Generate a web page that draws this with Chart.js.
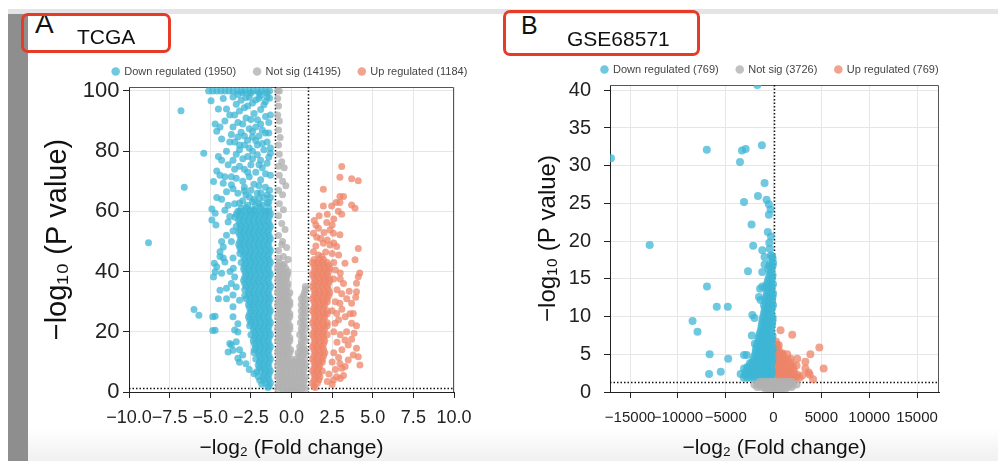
<!DOCTYPE html>
<html>
<head>
<meta charset="utf-8">
<script src="https://cdn.jsdelivr.net/npm/chart.js@4.4.1/dist/chart.umd.min.js"></script>
<style>
  html, body { margin: 0; padding: 0; background: #fff; }
  body { width: 998px; height: 461px; overflow: hidden; position: relative; font-family: "Liberation Sans", Arial, sans-serif; }
  .strip { position: absolute; left: 8px; top: 9px; width: 990px; height: 5px; background: #e4e4e7; }
  .bar { position: absolute; left: 8px; top: 14px; width: 20px; height: 447px; background: #8e8e8e; }
  .foot { position: absolute; left: 28px; top: 428px; width: 970px; height: 33px; background: linear-gradient(#fff, #f0f0f0); }
  .tag { position: absolute; border: 3px solid #e63b26; border-radius: 7px; box-sizing: border-box; }
  .txt { position: absolute; line-height: 1; color: #111; white-space: nowrap; }
  canvas { position: absolute; }
</style>
</head>
<body>
<div class="strip"></div>
<div class="bar"></div>
<div class="foot"></div>
<canvas id="chartA" width="520" height="413" style="left:30px;top:48px"></canvas>
<canvas id="chartB" width="520" height="415" style="left:510px;top:46px"></canvas>
<div class="txt" style="left:35px;top:9.5px;font-size:28px">A</div>
<div class="txt" style="left:77px;top:26px;font-size:21px">TCGA</div>
<div class="tag" style="left:21px;top:13px;width:150px;height:40px"></div>
<div class="txt" style="left:521px;top:13px;font-size:25px">B</div>
<div class="txt" style="left:567px;top:28px;font-size:21px">GSE68571</div>
<div class="tag" style="left:503px;top:10px;width:197px;height:46px"></div>

<script>
// legend texts
const labelsA = ["Down regulated (1950)", "Not sig (14195)", "Up regulated (1184)"];
const labelsB = ["Down regulated (769)", "Not sig (3726)", "Up regulated (769)"];

// axis ranges, tick values and cut-offs (log2FC, -log10 P)
const fcRangeA = [-10, 10];
const pRangeA = [0, 101.3];
const fcTicksA = [-10, -7.5, -5, -2.5, 0, 2.5, 5, 7.5, 10];
const pTicksA = [0, 20, 40, 60, 80, 100];
const fcRangeB = [-17100, 17300];
const pRangeB = [0, 40.7];
const fcTicksB = [-15000, -10000, -5000, 0, 5000, 10000, 15000];
const pTicksB = [0, 5, 10, 15, 20, 25, 30, 35, 40];
const cutFcA = [-1, 1];
const cutFcB = [0];
const cutP = 1.3;

// ---- TCGA : single points [x, y]
const downA = [
  [-5.1,100],[-4.85,100],[-4.6,100],[-4.35,100],[-4.1,100],[-3.85,100],[-3.6,100],[-3.35,100],[-3.1,100],
  [-2.85,100],[-2.6,100],[-2.35,100],[-2.1,100],[-1.85,100],[-1.6,100],[-1.35,100],
  [-3.0,99.3],[-2.5,99.3],[-2.0,99.3],[-1.5,99.3],
  [-6.8,93.4],[-5.4,79.3],[-6.6,68.0],[-8.8,49.6],[-6.0,27.4],[-5.7,25.5],
  [-4.95,96.7],[-4.5,94.0],[-4.1,90.0],[-3.8,92.0],[-4.7,89.0],[-4.6,86.6],[-3.4,95.6],[-3.1,96.9],
  [-2.8,97.8],[-3.2,93.3],[-2.9,94.4],[-2.4,96.0],[-1.9,93.8],[-1.7,95.4],[-2.0,97.6],[-1.35,97.6],
  [-1.4,89.5],[-1.6,91.5],[-2.1,90.4],[-3.1,86.3],[-2.6,87.4],[-3.3,84.7],[-2.4,84.7],[-2.7,83.6],
  [-2.9,82.0],[-2.1,82.0],[-3.5,83.0],[-1.5,83.0],[-1.3,81.0],[-3.0,89.0],[-2.5,90.5],[-2.2,88.0],
  [-1.8,87.0],[-1.4,86.0],[-3.6,88.0],[-2.0,85.0],[-1.7,80.5],[-2.4,80.0],[-3.2,80.5],[-1.9,98.5],
  [-2.6,98.0],[-3.6,98.0],[-4.2,97.5],[-1.5,98.0],
  [-3.3,98.8],[-2.2,97.0],[-1.6,96.5],[-2.7,95.0],[-3.5,92.0],[-2.3,92.5],[-1.3,92.0],[-2.8,91.0],
  [-3.3,89.5],[-1.9,89.0],[-1.6,86.0],[-2.4,86.5],[-2.9,85.0],[-3.7,85.5],[-2.2,83.5],[-1.8,82.5],
  [-3.2,82.0],[-2.6,81.0],[-1.4,78.0],[-1.9,77.0],[-2.4,77.5],[-3.0,77.5],[-3.4,79.0],[-2.0,75.5],
  [-2.7,73.0],[-3.5,74.0],[-1.6,72.5],[-2.0,68.5],[-2.9,68.0],[-3.6,67.5],[-1.5,65.5],[-2.3,64.0],
  [-3.0,63.5],[-1.8,62.0],[-2.5,60.5],[-3.3,60.0],[-3.7,71.5],[-4.1,71.5],[-4.0,80.0],[-3.8,83.0],
  [-4.3,84.0],[-4.4,88.0],[-4.0,94.0],
  [-4.5,78.2],[-4.3,77.0],[-4.6,73.4],[-4.4,72.0],[-3.6,77.0],[-2.7,78.2],[-2.1,78.8],[-1.3,79.3],
  [-3.9,75.5],[-3.2,75.0],[-2.9,74.0],[-2.5,75.5],[-2.2,73.0],[-1.8,74.5],[-1.5,76.0],[-1.3,72.0],
  [-3.4,71.0],[-3.0,70.0],[-2.6,71.5],[-2.3,69.0],[-1.9,70.5],[-1.6,68.0],[-1.35,67.0],[-3.3,66.0],
  [-2.8,65.5],[-2.5,67.0],[-2.1,66.0],[-1.7,64.5],[-1.4,63.0],[-3.5,62.5],[-3.1,61.0],[-2.7,62.0],
  [-2.3,60.5],[-2.0,62.5],[-1.6,60.0],[-4.3,64.0],[-3.9,62.0],
  [-1.4,61.2],[-1.9,61.0],[-2.2,62.0],[-2.8,61.3],[-1.5,62.8],[-2.4,63.2],[-3.2,62.8],[-1.3,64.6],
  [-2.0,64.2],[-2.6,64.8],[-1.9,66.2],[-2.9,66.8],
  [-4.8,69.9],[-4.2,69.3],[-3.7,68.8],[-4.0,66.5],[-4.6,64.6],[-4.9,60.8],[-4.9,57.1],[-4.7,59.4],
  [-4.65,55.5],[-4.1,60.4],[-3.9,56.5],[-3.8,58.3],[-4.0,52.1],[-4.2,48.2],[-4.4,46.6],[-4.1,43.2],
  [-4.6,41.6],[-4.8,38.2],[-4.7,39.9],[-4.75,42.8],[-4.3,50.0],[-4.4,45.0],[-4.2,44.5],[-4.3,39.4],
  [-3.78,40.0],[-3.58,41.1],[-3.6,44.5],[-3.7,50.0],[-3.6,53.5],
  [-4.4,33.8],[-4.0,34.5],[-4.5,31.0],[-3.7,36.0],[-3.4,34.9],[-3.5,38.2],[-3.6,28.3],[-3.2,30.5],
  [-3.6,25.0],[-3.3,22.7],[-4.0,31.0],[-3.6,32.2],[-3.5,20.6],[-3.3,19.9],
  [-4.85,25.0],[-4.85,20.4],[-4.7,25.2],[-4.7,20.5],
  [-3.8,16.1],[-3.9,13.3],[-3.6,13.9],[-3.7,15.6],[-3.4,16.7],[-3.2,14.0],[-3.3,11.2],[-3.0,12.3],
  [-3.2,9.9],[-2.8,9.4],[-2.6,7.5],[-2.3,6.1],[-2.14,6.7],[-2.04,5.1],[-1.95,3.9],[-1.83,2.6]
];
// TCGA dense part of the down group: [y, x, x, ...]
const downCoreA = [
  [60, -1.38,-1.68,-1.98,-2.28,-2.58,-2.88,-3.18],
  [59, -1.3,-1.6,-1.9,-2.2,-2.5,-2.8,-3.1,-3.4],
  [58, -1.38,-1.68,-1.98,-2.28,-2.58,-2.88,-3.18,-3.48],
  [57, -1.45,-1.75,-2.05,-2.35,-2.65,-2.95,-3.25],
  [56, -1.38,-1.68,-1.98,-2.28,-2.58,-2.88,-3.18],
  [55, -1.3,-1.6,-1.9,-2.2,-2.5,-2.8,-3.1,-3.4],
  [54, -1.38,-1.68,-1.98,-2.28,-2.58,-2.88,-3.18],
  [53, -1.45,-1.75,-2.05,-2.35,-2.65,-2.95,-3.25],
  [52, -1.38,-1.68,-1.98,-2.28,-2.58,-2.88,-3.18],
  [51, -1.3,-1.6,-1.9,-2.2,-2.5,-2.8,-3.1],
  [50, -1.38,-1.68,-1.98,-2.28,-2.58,-2.88,-3.18],
  [49, -1.45,-1.75,-2.05,-2.35,-2.65,-2.95,-3.25],
  [48, -1.38,-1.68,-1.98,-2.28,-2.58,-2.88,-3.18],
  [47, -1.3,-1.6,-1.9,-2.2,-2.5,-2.8,-3.1],
  [46, -1.38,-1.68,-1.98,-2.28,-2.58,-2.88,-3.18],
  [45, -1.45,-1.75,-2.05,-2.35,-2.65,-2.95],
  [44, -1.38,-1.68,-1.98,-2.28,-2.58,-2.88],
  [43, -1.3,-1.6,-1.9,-2.2,-2.5,-2.8,-3.1],
  [42, -1.38,-1.68,-1.98,-2.28,-2.58,-2.88],
  [41, -1.45,-1.75,-2.05,-2.35,-2.65,-2.95],
  [40, -1.38,-1.68,-1.98,-2.28,-2.58,-2.88],
  [39, -1.3,-1.6,-1.9,-2.2,-2.5,-2.8],
  [38, -1.38,-1.68,-1.98,-2.28,-2.58,-2.88],
  [37, -1.45,-1.75,-2.05,-2.35,-2.65,-2.95],
  [36, -1.38,-1.68,-1.98,-2.28,-2.58,-2.88],
  [35, -1.3,-1.6,-1.9,-2.2,-2.5,-2.8],
  [34, -1.38,-1.68,-1.98,-2.28,-2.58,-2.88],
  [33, -1.45,-1.75,-2.05,-2.35,-2.65],
  [32, -1.38,-1.68,-1.98,-2.28,-2.58,-2.88],
  [31, -1.3,-1.6,-1.9,-2.2,-2.5,-2.8],
  [30, -1.38,-1.68,-1.98,-2.28,-2.58],
  [29, -1.45,-1.75,-2.05,-2.35,-2.65],
  [28, -1.38,-1.68,-1.98,-2.28,-2.58],
  [27, -1.3,-1.6,-1.9,-2.2,-2.5],
  [26, -1.38,-1.68,-1.98,-2.28,-2.58],
  [25, -1.45,-1.75,-2.05,-2.35,-2.65],
  [24, -1.38,-1.68,-1.98,-2.28,-2.58],
  [23, -1.3,-1.6,-1.9,-2.2,-2.5],
  [22, -1.38,-1.68,-1.98,-2.28,-2.58],
  [21, -1.45,-1.75,-2.05,-2.35],
  [20, -1.38,-1.68,-1.98,-2.28],
  [19, -1.3,-1.6,-1.9,-2.2,-2.5],
  [18, -1.38,-1.68,-1.98,-2.28],
  [17, -1.45,-1.75,-2.05,-2.35],
  [16, -1.38,-1.68,-1.98,-2.28],
  [15, -1.3,-1.6,-1.9,-2.2],
  [14, -1.38,-1.68,-1.98,-2.28],
  [13, -1.45,-1.75,-2.05,-2.3],
  [12, -1.38,-1.68,-1.98],
  [11, -1.3,-1.6,-1.9,-2.2],
  [10, -1.38,-1.68,-1.98],
  [9, -1.45,-1.75,-2.05],
  [8, -1.38,-1.68,-1.98],
  [7, -1.3,-1.6,-1.9],
  [6, -1.38,-1.68],
  [5, -1.45,-1.75],
  [4, -1.38,-1.68],
  [3, -1.3,-1.6],
  [2, -1.38],
  [1.5, -1.45]
];
const flatA = [
  [-0.85,100],[-0.75,100],[-0.85,97.5],[-0.8,95],[-0.85,92],[-0.75,90],[-0.8,87],[-0.7,84.5],
  [-0.8,82],[-0.75,79],[-0.6,76.5],[-0.8,75],[-0.45,74.5],[-0.75,72],[-0.55,70],[-0.35,68.5],
  [-0.8,67],[-0.55,65.5],[-0.75,62.5],[-0.5,60.5],[-0.8,58.5],[-0.6,56],[-0.4,54],[-0.8,52],
  [-0.55,50],[-0.6,49],[-0.3,48],[-0.8,47],[-0.5,45],[-0.8,44.5],[-0.2,44],[-0.75,43],[-0.45,42.5]
];
const flatCoreA = [
  [42, -0.8,-0.55],
  [41, -0.85,-0.6,-0.35],
  [40, -0.72,-0.47,-0.22],
  [39, -0.75,-0.5,-0.25],
  [38, -0.8,-0.55,-0.3],
  [37, -0.85,-0.6,-0.35],
  [36, -0.72,-0.47,-0.22],
  [35, -0.75,-0.5,-0.25, 0.85],
  [34, -0.8,-0.55,-0.3, 0.85],
  [33, -0.85,-0.6,-0.35,-0.1, 0.8],
  [32, -0.72,-0.47,-0.22, 0.72],
  [31, -0.75,-0.5,-0.25, 0.6,0.85],
  [30, -0.8,-0.55,-0.3,-0.1, 0.72],
  [29, -0.85,-0.6,-0.35,-0.1, 0.6,0.85],
  [28, -0.72,-0.47,-0.22, 0.72],
  [27, -0.75,-0.5,-0.25, 0.6,0.85],
  [26, -0.8,-0.55,-0.3,-0.1, 0.72],
  [25, -0.85,-0.6,-0.35,-0.1, 0.6,0.85],
  [24, -0.72,-0.47,-0.22, 0.7],
  [23, -0.75,-0.5,-0.25, 0.55,0.8],
  [22, -0.8,-0.55,-0.3,-0.1, 0.72],
  [21, -0.85,-0.6,-0.35,-0.1, 0.6,0.85],
  [20, -0.72,-0.47,-0.22, 0.65],
  [19, -0.75,-0.5,-0.25, 0.5,0.75],
  [18, -0.8,-0.55,-0.3,-0.1, 0.72],
  [17, -0.85,-0.6,-0.35,-0.1, 0.6,0.85],
  [16, -0.72,-0.47,-0.22, 0.62],
  [15, -0.75,-0.5,-0.25, 0.5,0.75],
  [14, -0.8,-0.55,-0.3,-0.05, 0.55,0.8],
  [13, -0.85,-0.6,-0.35,-0.1, 0.4,0.65,0.85],
  [12, -0.72,-0.47,-0.22, 0.45,0.7],
  [11, -0.75,-0.5,-0.25,0, 0.3,0.55,0.8],
  [10, -0.8,-0.55,-0.3,-0.05,0.2,0.45,0.7],
  [9, -0.85,-0.6,-0.35,-0.1,0.15,0.4,0.65,0.85],
  [8, -0.72,-0.47,-0.22,0.03,0.28,0.53,0.78],
  [7, -0.75,-0.5,-0.25,0,0.25,0.5,0.75],
  [6, -0.8,-0.55,-0.3,-0.05,0.2,0.45,0.7],
  [5, -0.85,-0.6,-0.35,-0.1,0.15,0.4,0.65,0.85],
  [4, -0.72,-0.47,-0.22,0.03,0.28,0.53,0.78],
  [3, -0.75,-0.5,-0.25,0,0.25,0.5,0.75],
  [2, -0.8,-0.55,-0.3,-0.05,0.2,0.45,0.7],
  [1.2, -0.85,-0.6,-0.35,-0.1,0.15,0.4,0.65,0.85],
  [0.2, -0.5,-0.25,0,0.25,0.5]
];
const upA = [
  [3.09,74.9],[2.98,71.3],[3.7,70.8],[4.11,70.2],[1.96,67.3],[2.98,64.9],[3.2,64.9],[2.75,62.9],
  [2.98,62.9],[1.96,61.8],[2.47,61.8],[3.7,62.1],[3.91,61.0],[2.88,60.0],[3.09,59.0],[2.17,56.3],
  [1.66,54.4],[1.35,52.7],[1.55,51.4],[2.37,53.8],[2.58,52.7],[2.98,52.2],[1.96,49.4],[2.37,48.8],
  [2.78,48.3],[4.11,47.7],[1.35,46.6],[1.66,45.5],[1.86,45.0],[3.91,43.9],[3.29,42.8],[4.11,38.3],
  [4.0,36.1],[4.0,33.3],[3.7,29.5],[3.8,26.1],[3.7,22.8],[3.09,32.6],[2.98,29.5],[2.78,26.1],
  [2.68,22.8],[3.39,20.0],[3.29,17.3],[3.49,15.6],[4.0,14.5],[3.8,12.3],[4.11,11.7],[4.21,9.0],
  [3.09,7.9],[2.98,9.5],[3.49,10.6],[2.78,5.1],[2.58,4.0],
  [1.4,57],[1.7,58.5],[2.2,59],[2.6,57.5],[1.5,55.5],[2.0,53],[2.5,55.5],[1.8,51],[2.2,50.5],
  [2.6,49.5],[1.5,48.5],[2.1,46.5],[2.5,46],[2.9,45.5],[2.6,43],[2.7,40.5],[3.0,39.5],[2.6,37.5],
  [3.2,36],[2.8,34],[3.0,37.5],[3.4,31],[2.7,30],[3.1,27.5],[2.5,27],[3.3,25],[2.9,24],[2.6,20],
  [3.0,19],[2.8,16.5],[3.1,14],[2.6,13],[2.9,11.5],[2.5,10],[3.3,8.5],[2.7,7.5],[2.3,6],[3.0,4.5],
  [2.2,3.5],[2.5,2.5],[3.7,17.5],[3.6,26],[3.95,31.5],[4.2,39.5],[3.55,33.5],[3.85,19.5],[4.0,22],[3.2,5.5]
];
const upCoreA = [
  [44, 1.38,1.68,1.98],
  [43, 1.3,1.6,1.9,2.2],
  [42, 1.38,1.68,1.98,2.28],
  [41, 1.45,1.75,2.05,2.35],
  [40, 1.38,1.68,1.98,2.28],
  [39, 1.3,1.6,1.9,2.2],
  [38, 1.38,1.68,1.98,2.28],
  [37, 1.45,1.75,2.05,2.35],
  [36, 1.38,1.68,1.98,2.28],
  [35, 1.3,1.6,1.9,2.2],
  [34, 1.38,1.68,1.98,2.28],
  [33, 1.45,1.75,2.05,2.35],
  [32, 1.38,1.68,1.98,2.28],
  [31, 1.3,1.6,1.9,2.2],
  [30, 1.38,1.68,1.98,2.2],
  [29, 1.45,1.75,2.05],
  [28, 1.38,1.68,1.98],
  [27, 1.3,1.6,1.9,2.2],
  [26, 1.38,1.68,1.98,2.2],
  [25, 1.45,1.75,2.05],
  [24, 1.38,1.68,1.98],
  [23, 1.3,1.6,1.9,2.2],
  [22, 1.38,1.68,1.98,2.2],
  [21, 1.45,1.75,2.05],
  [20, 1.38,1.68,1.98],
  [19, 1.3,1.6,1.9,2.2],
  [18, 1.38,1.68,1.98],
  [17, 1.45,1.75,2.05],
  [16, 1.38,1.68,1.98],
  [15, 1.3,1.6,1.9],
  [14, 1.38,1.68,1.98],
  [13, 1.45,1.75,2.05],
  [12, 1.38,1.68,1.98],
  [11, 1.3,1.6,1.9],
  [10, 1.38,1.68,1.9],
  [9, 1.45,1.75],
  [8, 1.38,1.68],
  [7, 1.3,1.6,1.9],
  [6, 1.38,1.68],
  [5, 1.45,1.75],
  [4, 1.38,1.68],
  [3, 1.3,1.6],
  [2, 1.38],
  [1.5, 1.45]
];

// ---- GSE68571
const downB = [
  [-1700,40.7],[-17000,31.0],[-6980,32.1],[-3300,32.0],[-2920,32.2],[-1220,32.7],[-3510,30.5],
  [-940,27.7],[-1630,26.0],[-3090,25.2],[-730,25.5],[-490,24.9],[-310,24.2],[-490,23.5],[-2300,22.2],
  [-600,21.2],[-270,20.6],[-440,19.8],[-2130,19.4],[-12950,19.5],[-1180,18.8],[-940,17.9],[-270,18.1],
  [-100,17.7],[-2670,16.0],[-1180,15.9],[-940,16.9],[-6960,14.0],[-5940,11.3],[-4780,11.3],[-8470,9.4],
  [-7950,8.0],[-6680,5.0],[-4740,4.4],[-6740,2.4],[-5520,2.7],[-3090,4.9],[-2810,4.9],[-2270,7.5],
  [-1960,6.4],[-2220,10.2],[-1990,9.8],[-1520,12.6],[-1350,12.2],[-1410,13.7],[-1180,14.0],
  [-3440,2.4],[-3090,3.1],[-2740,3.3],[-2470,3.8]
];
const downCoreB = [
  [1.9, -3100,-2750,-2400,-2050,-1700,-1350,-1000,-650,-300],
  [2.3, -3000,-2650,-2300,-1950,-1600,-1250,-900,-550,-200],
  [2.7, -2900,-2550,-2200,-1850,-1500,-1150,-800,-450,-150],
  [3.1, -2700,-2350,-2000,-1650,-1300,-950,-600,-250],
  [3.5, -2400,-2050,-1700,-1350,-1000,-650,-300],
  [3.9, -2250,-1900,-1550,-1200,-850,-500,-150],
  [4.3, -2100,-1750,-1400,-1050,-700,-350,-100],
  [4.7, -2000,-1650,-1300,-950,-600,-250],
  [5.1, -1900,-1550,-1200,-850,-500,-150],
  [5.5, -1850,-1500,-1150,-800,-450,-100],
  [5.9, -1800,-1450,-1100,-750,-400,-100],
  [6.3, -1700,-1350,-1000,-650,-300],
  [6.7, -1600,-1250,-900,-550,-200],
  [7.1, -1550,-1200,-850,-500,-150],
  [7.5, -1500,-1150,-800,-450,-100],
  [7.9, -1400,-1050,-700,-350],
  [8.3, -1300,-950,-600,-250],
  [8.7, -1250,-900,-550,-200],
  [9.1, -1200,-850,-500,-150],
  [9.5, -1150,-800,-450,-100],
  [9.9, -1100,-750,-400,-100],
  [10.3, -1000,-650,-300],
  [10.7, -950,-600,-250],
  [11.1, -900,-550,-200],
  [11.5, -1000,-650,-300,-50],
  [11.9, -850,-500,-150],
  [12.3, -800,-450,-150],
  [12.7, -750,-400,-100],
  [13.1, -700,-350,-50],
  [13.5, -600,-250],
  [13.9, -850,-500,-200],
  [14.3, -700,-350,-50],
  [14.7, -600,-250],
  [15.1, -500,-150],
  [15.5, -400,-100],
  [15.9, -300],
  [16.3, -550,-200],
  [16.7, -450,-100],
  [17.1, -350,-50],
  [18.0, -150],
  [19.0, -400]
];
const flatCoreB = [
  [1.35, -1400,-1000,-600,-200,200,600,1000,1400,1800],
  [1.0, -2000,-1600,-1200,-800,-400,0,400,800,1200,1600,2000,2400],
  [0.65, -1700,-1300,-900,-500,-100,300,700,1100,1500,1900],
  [0.35, -800,-400,0,400,800,1200]
];
const upB = [
  [730,8.2],[1950,7.6],[550,6.2],[4790,5.9],[5240,3.1],[3850,5.0],[3780,2.3],[4130,1.7],[2470,4.4],
  [3330,4.0],[3680,2.6],[1430,5.0],[1770,4.4],[2400,3.5],[3330,3.1],[2990,2.2],[900,5.0]
];
const upCoreB = [
  [1.9, 250,600,950,1300,1650,2000,2350,2700],
  [2.3, 350,700,1050,1400,1750,2100,2450],
  [2.7, 400,750,1100,1450,1800,2150],
  [3.1, 300,650,1000,1350,1700,2050],
  [3.5, 250,600,950,1300,1650,2000],
  [3.9, 350,700,1050,1400,1750],
  [4.3, 400,750,1100,1450],
  [4.7, 300,650,1000],
  [5.1, 250,600,950],
  [5.5, 300,550],
  [5.9, 400],
  [6.3, 350],
  [6.7, 250]
];

const fromPairs = pts => pts.map(([x, y]) => ({ x, y }));
const fromRows = rows => rows.flatMap(([y, ...xs]) => xs.map(x => ({ x, y })));

const blue = "rgba(62,182,212,0.75)";
const grey = "rgba(178,178,178,0.8)";
const salmon = "rgba(238,132,104,0.75)";

Chart.defaults.font.family = "'Liberation Sans', Arial, sans-serif";

// frame and dotted cut-off lines, drawn under the points
const cutoffLines = {
  id: "cutoffs",
  beforeDatasetsDraw(chart, args, opts) {
    const { ctx, chartArea: a, scales: { x, y } } = chart;
    ctx.save();
    ctx.strokeStyle = "#555";
    ctx.lineWidth = 1;
    ctx.beginPath();
    ctx.moveTo(a.left, a.top + 0.5);
    ctx.lineTo(a.right - 0.5, a.top + 0.5);
    ctx.lineTo(a.right - 0.5, a.bottom);
    ctx.stroke();
    ctx.strokeStyle = "#111";
    ctx.lineWidth = 1.5;
    ctx.setLineDash([1.5, 2]);
    opts.fc.forEach(v => {
      const px = Math.round(x.getPixelForValue(v)) + 0.5;
      ctx.beginPath();
      ctx.moveTo(px, a.top);
      ctx.lineTo(px, a.bottom);
      ctx.stroke();
    });
    const py = Math.round(y.getPixelForValue(opts.p)) + 0.5;
    ctx.beginPath();
    ctx.moveTo(a.left, py);
    ctx.lineTo(a.right, py);
    ctx.stroke();
    ctx.restore();
  }
};

function makeChart(id, p) {
  const sets = [
    { label: p.labels[0], data: p.down, color: blue, order: 1 },
    { label: p.labels[1], data: p.flat, color: grey, order: 0 },
    { label: p.labels[2], data: p.up, color: salmon, order: 2 }
  ].map(d => ({
    label: d.label, data: d.data, order: d.order,
    backgroundColor: d.color, pointBackgroundColor: d.color,
    pointRadius: p.radius, pointHoverRadius: p.radius, pointBorderWidth: 0, borderWidth: 0
  }));

  return new Chart(document.getElementById(id), {
    type: "scatter",
    data: { datasets: sets },
    options: {
      responsive: false,
      animation: false,
      events: [],
      layout: { padding: 0 },
      plugins: {
        legend: {
          position: "top",
          labels: {
            usePointStyle: true, pointStyle: "circle", boxWidth: 6, boxHeight: 6, padding: 18,
            color: "#444", font: { size: 11 },
            sort: (a, b) => a.datasetIndex - b.datasetIndex
          }
        },
        tooltip: { enabled: false },
        cutoffs: { fc: p.cutFc, p: cutP }
      },
      scales: {
        x: {
          type: "linear", min: p.xRange[0], max: p.xRange[1],
          afterBuildTicks: s => { s.ticks = p.xTicks.map(value => ({ value })); },
          border: { display: true, color: "#222", width: 1 },
          grid: { color: "#e6e6e6", tickColor: "#222", tickLength: 6 },
          ticks: {
            autoSkip: false, maxRotation: 0, minRotation: 0,
            color: "#222", padding: p.xTickPad, font: { size: p.xTickSize }, callback: p.xFmt
          },
          title: { display: true, text: "\u2212log\u2082 (Fold change)", color: "#111", font: { size: 21 }, padding: { top: 0, bottom: 0.5 } },
          afterFit: s => { s.height = 69; }
        },
        y: {
          type: "linear", min: p.yRange[0], max: p.yRange[1],
          afterBuildTicks: s => { s.ticks = p.yTicks.map(value => ({ value })); },
          border: { display: true, color: "#222", width: 1 },
          grid: { color: "#e6e6e6", tickColor: "#222", tickLength: 6 },
          ticks: { autoSkip: false, color: "#222", padding: p.yTickPad, font: { size: p.yTickSize } },
          title: { display: true, text: "\u2212log\u2081\u2080 (P value)", color: "#111", font: { size: p.yTitleSize }, padding: { top: p.yTitlePad, bottom: 0 } },
          afterFit: s => { s.width = p.yWidth; }
        },
        pad: {
          type: "linear", position: "right", display: true,
          grid: { display: false }, border: { display: false }, ticks: { display: false },
          afterFit: s => { s.width = p.padRight; }
        }
      }
    },
    plugins: [cutoffLines]
  });
}

const minus = v => (v < 0 ? "\u2212" : "");

makeChart("chartA", {
  labels: labelsA,
  down: fromPairs(downA).concat(fromRows(downCoreA)),
  flat: fromPairs(flatA).concat(fromRows(flatCoreA)),
  up: fromPairs(upA).concat(fromRows(upCoreA)),
  radius: 3.5,
  cutFc: cutFcA,
  xRange: fcRangeA, xTicks: fcTicksA, xTickSize: 18, xTickPad: 9,
  xFmt: v => minus(v) + Math.abs(v).toFixed(1),
  yRange: pRangeA, yTicks: pTicksA, yTickSize: 22, yTickPad: 3.5,
  yTitleSize: 29, yTitlePad: 10.6, yWidth: 99, padRight: 96
});

makeChart("chartB", {
  labels: labelsB,
  down: fromPairs(downB).concat(fromRows(downCoreB)),
  flat: fromRows(flatCoreB),
  up: fromPairs(upB).concat(fromRows(upCoreB)),
  radius: 4,
  cutFc: cutFcB,
  xRange: fcRangeB, xTicks: fcTicksB, xTickSize: 15, xTickPad: 10.5,
  xFmt: v => minus(v) + Math.abs(v),
  yRange: pRangeB, yTicks: pTicksB, yTickSize: 20, yTickPad: 13,
  yTitleSize: 24, yTitlePad: 24, yWidth: 100, padRight: 91
});
</script>
</body>
</html>
